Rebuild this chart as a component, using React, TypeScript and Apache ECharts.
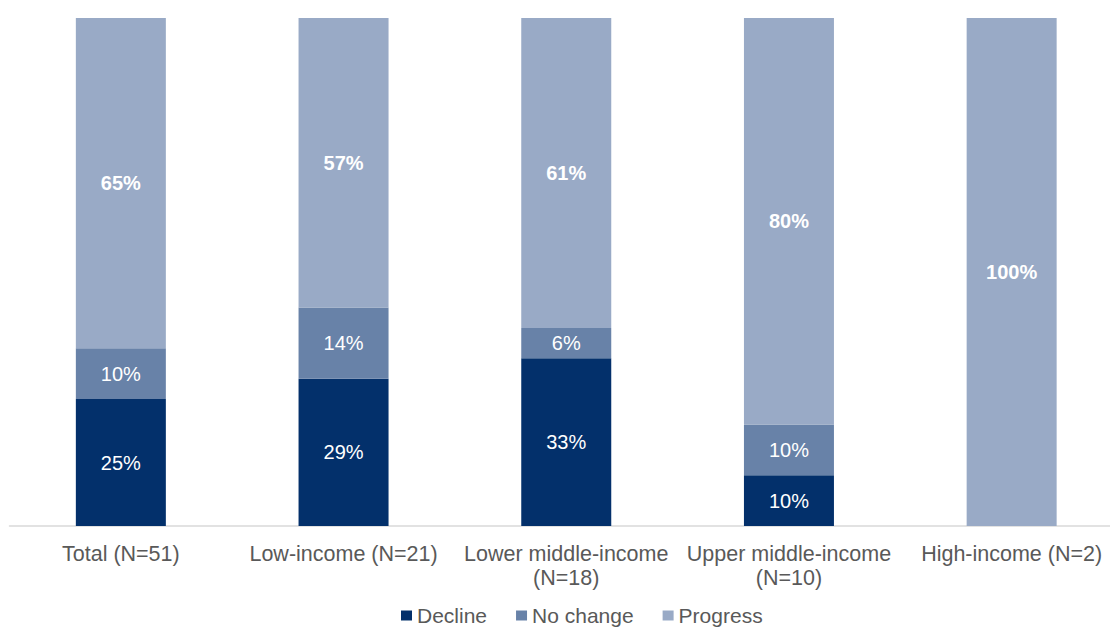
import React, { useEffect, useRef } from "react";
import * as echarts from "echarts";

const categories = [
  "Total (N=51)",
  "Low-income (N=21)",
  "Lower middle-income\n(N=18)",
  "Upper middle-income\n(N=10)",
  "High-income (N=2)",
];
const decline = [25, 29, 33, 10, 0];
const noChange = [10, 14, 6, 10, 0];
const progress = [65, 57, 61, 80, 100];

const FONT = "'Liberation Sans', Arial, sans-serif";

export default function App() {
  const ref = useRef<HTMLDivElement>(null);
  useEffect(() => {
    document.body.style.margin = "0";
    document.body.style.overflow = "hidden";
    const chart = echarts.init(ref.current!, null, { renderer: "svg" });
    const mk = (name: string, data: number[], color: string, bold: boolean) => ({
      name,
      type: "bar",
      stack: "all",
      data,
      barWidth: 90,
      itemStyle: { color },
      label: {
        show: true,
        position: "inside",
        color: "#ffffff",
        fontFamily: FONT,
        fontSize: 20,
        fontWeight: bold ? "bold" : "normal",
        formatter: (p: any) => (p.value > 0 ? p.value + "%" : ""),
      },
    });
    chart.setOption({
      animation: false,
      textStyle: { fontFamily: FONT },
      grid: { left: 9.5, top: 18, right: 0, height: 508, containLabel: false, outerBoundsMode: "none" },
      xAxis: {
        type: "category",
        data: categories,
        axisLine: { lineStyle: { color: "#D9D9D9", width: 1.5 } },
        axisTick: { show: false },
        axisLabel: {
          color: "#595959",
          fontSize: 21.5,
          fontFamily: FONT,
          lineHeight: 24,
          margin: 16,
          interval: 0,
        },
      },
      yAxis: {
        type: "value",
        min: 0,
        max: 100,
        show: false,
        splitLine: { show: false },
      },
      legend: {
        top: 605,
        left: 401,
        padding: 0,
        itemWidth: 11,
        itemHeight: 10,
        itemGap: 29,
        icon: "rect",
        textStyle: { color: "#595959", fontSize: 21, fontFamily: FONT },
        data: ["Decline", "No change", "Progress"],
      },
      series: [
        mk("Decline", decline, "#03306B", false),
        mk("No change", noChange, "#6882A8", false),
        mk("Progress", progress, "#99AAC6", true),
      ],
    });
    return () => chart.dispose();
  }, []);
  return (
    <div
      ref={ref}
      style={{ position: "absolute", left: 0, top: 0, width: 1123, height: 628 }}
    />
  );
}
